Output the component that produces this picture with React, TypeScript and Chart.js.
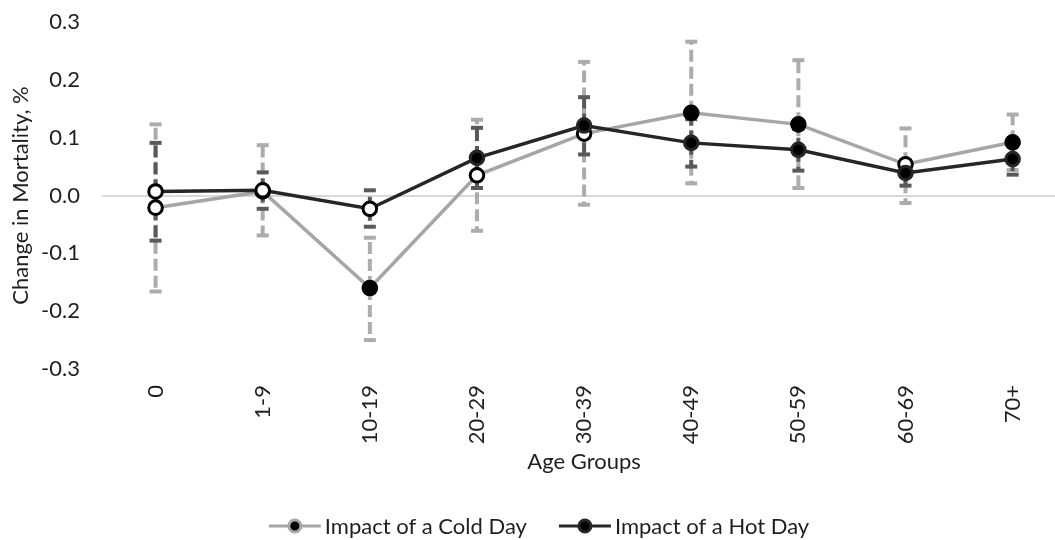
import { useEffect, useRef } from 'react';
import { Chart, registerables } from 'chart.js';

Chart.register(...registerables);

// Age groups on the category axis
const ageGroups = ['0', '1-9', '10-19', '20-29', '30-39', '40-49', '50-59', '60-69', '70+'];

// Impact of a cold day: estimate with 95% interval bounds
const coldDay = [-0.021, 0.007, -0.160, 0.035, 0.107, 0.143, 0.123, 0.054, 0.092];
const coldLow = [-0.166, -0.069, -0.250, -0.061, -0.016, 0.021, 0.013, -0.013, 0.044];
const coldHigh = [0.123, 0.087, -0.073, 0.131, 0.231, 0.266, 0.234, 0.116, 0.140];

// Impact of a hot day: estimate with 95% interval bounds
const hotDay = [0.007, 0.009, -0.023, 0.065, 0.121, 0.091, 0.079, 0.039, 0.063];
const hotLow = [-0.078, -0.023, -0.054, 0.013, 0.071, 0.050, 0.043, 0.017, 0.036];
const hotHigh = [0.091, 0.040, 0.009, 0.117, 0.170, 0.132, 0.115, 0.061, 0.090];

// Value axis ticks
const yTicks = [-0.3, -0.2, -0.1, 0.0, 0.1, 0.2, 0.3];

const seriesNames = ['Impact of a Cold Day', 'Impact of a Hot Day'];

const FONT = 'Lato';
const SIZE = 22;
const TEXT = '#1f1f1f';
const COLD_LINE = '#a6a6a6';
const HOT_LINE = '#262626';
const COLD_BAR = '#aeabab';
const HOT_BAR = '#595959';

// An interval that excludes zero gets a solid marker, otherwise a hollow one
const significant = (lo: number[], hi: number[]) => lo.map((l, i) => l > 0 || hi[i] < 0);

function drawSymbol(g: CanvasRenderingContext2D, x: number, y: number, line: string, ring: string) {
  g.save();
  g.strokeStyle = line;
  g.lineWidth = 3;
  g.beginPath();
  g.moveTo(x, y);
  g.lineTo(x + 52, y);
  g.stroke();
  g.beginPath();
  g.arc(x + 26, y, 6, 0, Math.PI * 2);
  g.fillStyle = '#000';
  g.fill();
  g.lineWidth = 3;
  g.strokeStyle = ring;
  g.stroke();
  g.restore();
}

function strokeBar(ctx: CanvasRenderingContext2D, x: number, from: number, to: number) {
  ctx.setLineDash([12, 5]);
  ctx.beginPath();
  ctx.moveTo(x, from);
  ctx.lineTo(x, to);
  ctx.stroke();
  ctx.setLineDash([]);
  ctx.beginPath();
  ctx.moveTo(x - 6, to);
  ctx.lineTo(x + 6, to);
  ctx.stroke();
}

// Dashed interval bars with end caps, drawn beneath the lines
const errorBars = {
  id: 'errorBars',
  beforeDatasetsDraw(chart: any) {
    const { ctx, scales } = chart;
    const x = scales.x;
    const y = scales.y;
    const groups = [
      { mid: coldDay, low: coldLow, high: coldHigh, color: COLD_BAR },
      { mid: hotDay, low: hotLow, high: hotHigh, color: HOT_BAR },
    ];
    ctx.save();
    ctx.lineWidth = 4;
    ctx.lineCap = 'butt';
    groups.forEach((g) => {
      ctx.strokeStyle = g.color;
      g.mid.forEach((m: number, i: number) => {
        const px = x.getPixelForValue(i);
        const pm = y.getPixelForValue(m);
        strokeBar(ctx, px, pm, y.getPixelForValue(g.high[i]));
        strokeBar(ctx, px, pm, y.getPixelForValue(g.low[i]));
      });
    });
    ctx.restore();
  },
};

// Legend row under the axis title: line-and-marker symbol followed by the series name
const lineLegend = {
  id: 'lineLegend',
  afterDraw(chart: any) {
    const ctx = chart.ctx as CanvasRenderingContext2D;
    ctx.save();
    ctx.font = `${SIZE}px ${FONT}`;
    ctx.textBaseline = 'middle';
    ctx.fillStyle = TEXT;
    const styles = [
      [COLD_LINE, COLD_LINE],
      [HOT_LINE, HOT_LINE],
    ];
    const widths = seriesNames.map((n) => 52 + 4 + ctx.measureText(n).width);
    const gap = 32;
    const total = widths.reduce((a, b) => a + b, 0) + gap * (widths.length - 1);
    let x = 539 - total / 2;
    const y = 526;
    seriesNames.forEach((n, i) => {
      drawSymbol(ctx, x, y, styles[i][0], styles[i][1]);
      ctx.fillText(n, x + 56, y + 1);
      x += widths[i] + gap;
    });
    ctx.restore();
  },
};

export default function App() {
  const ref = useRef<HTMLCanvasElement | null>(null);

  useEffect(() => {
    document.body.style.margin = '0';
    const coldSig = significant(coldLow, coldHigh);
    const hotSig = significant(hotLow, hotHigh);

    const chart = new Chart(ref.current!, {
      type: 'line',
      data: {
        labels: ageGroups,
        datasets: [
          {
            label: seriesNames[0],
            data: coldDay,
            borderColor: COLD_LINE,
            borderWidth: 3.5,
            pointRadius: 6.8,
            pointBorderWidth: 3,
            pointBackgroundColor: coldSig.map((s) => (s ? '#000' : '#fff')),
            pointBorderColor: coldSig.map(() => '#000'),
            order: 1,
          },
          {
            label: seriesNames[1],
            data: hotDay,
            borderColor: HOT_LINE,
            borderWidth: 3.5,
            pointRadius: 6.8,
            pointBorderWidth: 3,
            pointBackgroundColor: hotSig.map((s) => (s ? '#000' : '#fff')),
            pointBorderColor: hotSig.map((s) => (s ? HOT_LINE : '#000')),
            order: 0,
          },
        ],
      },
      plugins: [errorBars, lineLegend],
      options: {
        animation: false,
        responsive: false,
        layout: { padding: { top: 22, right: 1, left: 0, bottom: 55 } },
        plugins: {
          tooltip: { enabled: false },
          legend: { display: false },
        },
        scales: {
          x: {
            offset: true,
            grid: { display: false },
            border: { display: false },
            ticks: {
              color: TEXT,
              font: { family: FONT, size: SIZE },
              minRotation: 90,
              maxRotation: 90,
              padding: 8,
            },
            title: {
              display: true,
              text: 'Age Groups',
              color: TEXT,
              font: { family: FONT, size: SIZE },
              padding: { top: 0, bottom: 10 },
            },
            afterFit: (s: any) => {
              s.height = 116;
              s.paddingTop = 0;
              s.paddingBottom = 0;
            },
          },
          y: {
            min: -0.3,
            max: 0.3,
            border: { display: false },
            grid: {
              drawTicks: false,
              lineWidth: 2,
              color: (c: any) => (c.tick && Math.abs(c.tick.value) < 1e-9 ? '#d9d9d9' : 'transparent'),
            },
            afterBuildTicks: (s: any) => {
              s.ticks = yTicks.map((v) => ({ value: v }));
            },
            ticks: {
              color: TEXT,
              font: { family: FONT, size: SIZE },
              padding: 22,
              callback: (v: any) => Number(v).toFixed(1),
            },
            title: {
              display: true,
              text: 'Change in Mortality, %',
              color: TEXT,
              font: { family: FONT, size: SIZE },
              padding: { top: 8, bottom: 0 },
            },
            afterFit: (s: any) => {
              s.width = 102;
              s.paddingTop = 0;
              s.paddingBottom = 0;
            },
          },
        },
      },
    });
    return () => chart.destroy();
  }, []);

  return (
    <div style={{ width: 1055, height: 540, overflow: 'hidden' }}>
      <canvas ref={ref} width={1076} height={540} style={{ display: 'block' }} />
    </div>
  );
}
